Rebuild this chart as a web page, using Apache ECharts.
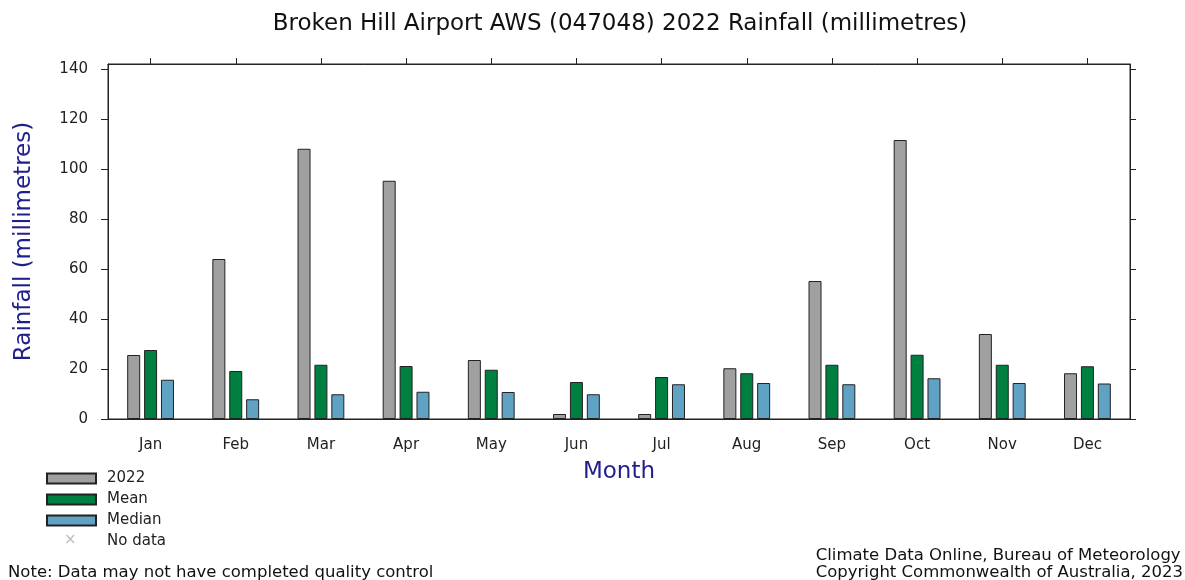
<!DOCTYPE html>
<html>
<head>
<meta charset="utf-8">
<script src="https://cdn.jsdelivr.net/npm/echarts@6/dist/echarts.min.js"></script>
<style>
  html, body { margin: 0; padding: 0; background: #fff; }
  #main { width: 1185px; height: 580px; }
</style>
</head>
<body>
<div id="main"></div>
<script>
// months on the x axis
const months = ['Jan', 'Feb', 'Mar', 'Apr', 'May', 'Jun', 'Jul', 'Aug', 'Sep', 'Oct', 'Nov', 'Dec'];
// monthly rainfall, mm
const rain2022 = [25.6, 64.0, 108.1, 95.3, 23.6, 2.0, 2.0, 20.3, 55.2, 111.6, 34.0, 18.3];
const rainMean = [27.6, 19.2, 21.7, 21.2, 19.7, 14.8, 16.8, 18.3, 21.7, 25.7, 21.7, 21.1];
const rainMedian = [15.7, 7.9, 9.9, 10.9, 10.8, 9.9, 13.9, 14.4, 13.9, 16.3, 14.4, 14.2];
const yTicks = [0, 20, 40, 60, 80, 100, 120, 140];

const font = 'DejaVu Sans';
const navy = '#1e1e8c';
const barBorder = { borderColor: '#222', borderWidth: 1 };

let chart = echarts.init(document.getElementById('main'));

const yAxisBase = {
  type: 'value',
  min: 0,
  max: 142,
  interval: 20,
  splitLine: { show: false },
  axisLine: { show: true, lineStyle: { color: '#222', width: 1 } },
  axisTick: { show: true, length: 7, customValues: yTicks, lineStyle: { color: '#222' } }
};

let option = {
  animation: false,
  backgroundColor: '#fff',
  title: {
    text: 'Broken Hill Airport AWS (047048) 2022 Rainfall (millimetres)',
    left: 615,
    textAlign: 'center',
    top: 8,
    textStyle: { fontFamily: font, fontSize: 23, fontWeight: 'normal', color: '#111' }
  },
  legend: {
    orient: 'vertical',
    left: 46,
    top: 470,
    padding: 0,
    itemWidth: 49,
    itemHeight: 10,
    itemGap: 4,
    selectedMode: false,
    textStyle: { fontFamily: font, fontSize: 15, color: '#222', lineHeight: 17, padding: [0, 0, 0, 6] },
    data: [
      { name: '2022', icon: 'rect' },
      { name: 'Mean', icon: 'rect' },
      { name: 'Median', icon: 'rect' },
      { name: 'No data', icon: 'none' }
    ]
  },
  grid: { left: 108, right: 55, top: 64, bottom: 161, show: true, borderColor: '#222', borderWidth: 1 },
  xAxis: [
    {
      type: 'category',
      data: months,
      position: 'bottom',
      name: 'Month',
      nameLocation: 'middle',
      nameGap: 42,
      nameTextStyle: { fontFamily: font, fontSize: 23, color: navy },
      axisLine: { lineStyle: { color: '#222', width: 1 } },
      axisTick: { alignWithLabel: true, length: 8, lineStyle: { color: '#222' } },
      axisLabel: { fontFamily: font, fontSize: 15, color: '#222', margin: 19 }
    },
    {
      type: 'category',
      data: months,
      position: 'top',
      axisLine: { show: true, onZero: false, lineStyle: { color: '#222', width: 1 } },
      axisTick: { show: true, alignWithLabel: true, length: 6, lineStyle: { color: '#222' } },
      axisLabel: { show: false }
    }
  ],
  yAxis: [
    Object.assign({}, yAxisBase, {
      position: 'left',
      name: 'Rainfall (millimetres)',
      nameLocation: 'middle',
      nameGap: 72,
      nameTextStyle: { fontFamily: font, fontSize: 23, color: navy },
      axisLabel: {
        fontFamily: font, fontSize: 15, color: '#222', margin: 20,
        customValues: yTicks
      }
    }),
    Object.assign({}, yAxisBase, {
      position: 'right',
      axisTick: { show: true, length: 6, customValues: yTicks, lineStyle: { color: '#222' } },
      axisLabel: { show: false }
    })
  ],
  graphic: [
    { type: 'text', left: 64, top: 533, style: { text: '\u00d7', fontFamily: font, fontSize: 15, fill: '#bbb' } },
    { type: 'text', left: 8, top: 564, style: { text: 'Note: Data may not have completed quality control', fontFamily: font, fontSize: 16.5, fill: '#111' } },
    { type: 'text', right: 2, top: 547, style: { text: 'Climate Data Online, Bureau of Meteorology\nCopyright Commonwealth of Australia, 2023', fontFamily: font, fontSize: 16.5, lineHeight: 17, fill: '#111', align: 'left' } }
  ],
  series: [
    { name: '2022', type: 'bar', data: rain2022, barWidth: 13, barGap: '30%', itemStyle: Object.assign({ color: '#a0a0a0' }, barBorder) },
    { name: 'Mean', type: 'bar', data: rainMean, barWidth: 13, barGap: '30%', itemStyle: Object.assign({ color: '#008040' }, barBorder) },
    { name: 'Median', type: 'bar', data: rainMedian, barWidth: 13, barGap: '30%', itemStyle: Object.assign({ color: '#5fa2c4' }, barBorder) },
    { name: 'No data', type: 'scatter', data: [], itemStyle: { color: '#bbb' } }
  ]
};

chart.setOption(option);
</script>
</body>
</html>
